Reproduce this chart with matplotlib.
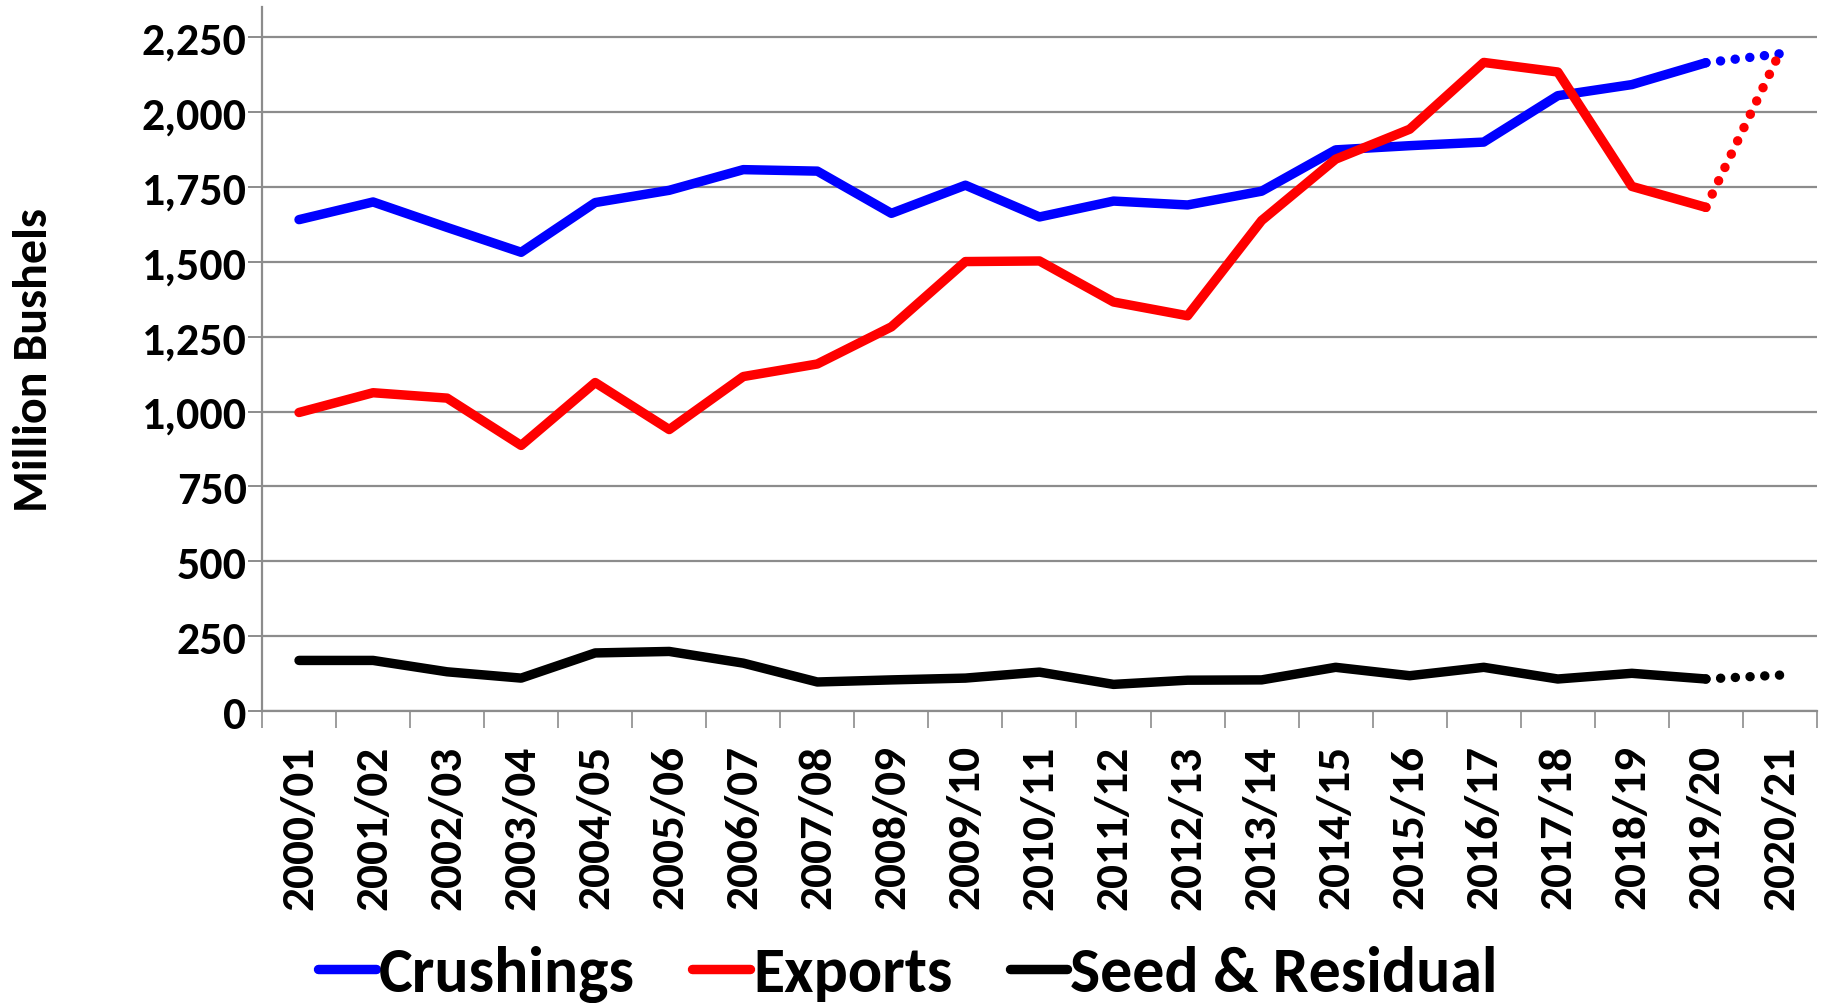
import matplotlib
matplotlib.use("Agg")
import matplotlib.pyplot as plt
from matplotlib.ticker import FuncFormatter, FixedLocator
import numpy as np

categories = ["2000/01", "2001/02", "2002/03", "2003/04", "2004/05", "2005/06",
              "2006/07", "2007/08", "2008/09", "2009/10", "2010/11", "2011/12",
              "2012/13", "2013/14", "2014/15", "2015/16", "2016/17", "2017/18",
              "2018/19", "2019/20", "2020/21"]
crushings = [1641, 1700, 1615, 1532, 1698, 1739, 1808, 1803, 1662, 1756, 1650, 1703,
             1690, 1736, 1874, 1888, 1900, 2055, 2092, 2165, 2195]
exports = [997, 1063, 1045, 887, 1097, 940, 1117, 1159, 1283, 1501, 1503, 1366,
           1320, 1638, 1843, 1943, 2166, 2134, 1752, 1682, 2200]
seed_residual = [169, 169, 131, 110, 194, 199, 160, 97, 104, 110, 130, 89,
                 103, 104, 146, 118, 146, 107, 126, 107, 120]
series_names = ["Crushings", "Exports", "Seed & Residual"]
series_colors = ["#0000FF", "#FF0000", "#000000"]
yticks = [0, 250, 500, 750, 1000, 1250, 1500, 1750, 2000, 2250]

plt.rcParams['font.family'] = ['Carlito', 'Roboto', 'DejaVu Sans']
plt.rcParams['font.weight'] = 'bold'

fig = plt.figure(figsize=(18.27, 10.04), dpi=100)
ax = fig.add_axes([0.1434, 0.2908, 0.9945 - 0.1434, 0.9917 - 0.2908])

x = np.arange(len(categories))
lw = 6.8
handles = []
for vals, name, col in zip([crushings, exports, seed_residual], series_names, series_colors):
    h, = ax.plot(x[:-1], vals[:-1], color=col, lw=lw, solid_capstyle='round',
                 solid_joinstyle='round', label=name, zorder=3)
    ax.plot(x[-2:], vals[-2:], color=col, lw=lw, linestyle=(0, (0.01, 1.55)),
            dash_capstyle='round', zorder=3)
    handles.append(h)

ax.set_xlim(-0.5, len(categories) - 0.5)
ax.set_ylim(0, 2350)

ax.yaxis.set_major_locator(FixedLocator(yticks))
ax.yaxis.set_major_formatter(FuncFormatter(lambda v, p: f"{int(v):,}"))
ax.grid(axis='y', color='#8c8c8c', lw=1.6, zorder=1)
ax.set_axisbelow(True)

ax.set_xticks(x)
ax.set_xticklabels(categories, rotation=90, fontsize=34, fontweight='bold')
ax.set_xticks(np.arange(-0.5, len(categories) + 0.5, 1), minor=True)
ax.tick_params(axis='x', which='major', length=0, pad=24)
ax.tick_params(axis='x', which='minor', length=12, width=1.2, color='#8c8c8c')
ax.tick_params(axis='y', which='major', length=10, width=1.4, color='#8c8c8c',
               labelsize=33, pad=1)
for lab in ax.get_yticklabels():
    lab.set_fontweight('bold')

for s in ['top', 'right']:
    ax.spines[s].set_visible(False)
for s in ['left', 'bottom']:
    ax.spines[s].set_color('#8c8c8c')
    ax.spines[s].set_linewidth(1.6)

ax.set_ylabel("Million Bushels", fontsize=34.5, fontweight='bold', labelpad=62)

leg = fig.legend(handles=handles, labels=series_names, loc='center',
                 bbox_to_anchor=(0.497, 0.029), ncol=3, frameon=False,
                 fontsize=46, handlelength=0.9, handletextpad=0.05,
                 columnspacing=0.9, borderaxespad=0)
for t in leg.get_texts():
    t.set_fontweight('bold')

fig.savefig("out.png", dpi=100)
